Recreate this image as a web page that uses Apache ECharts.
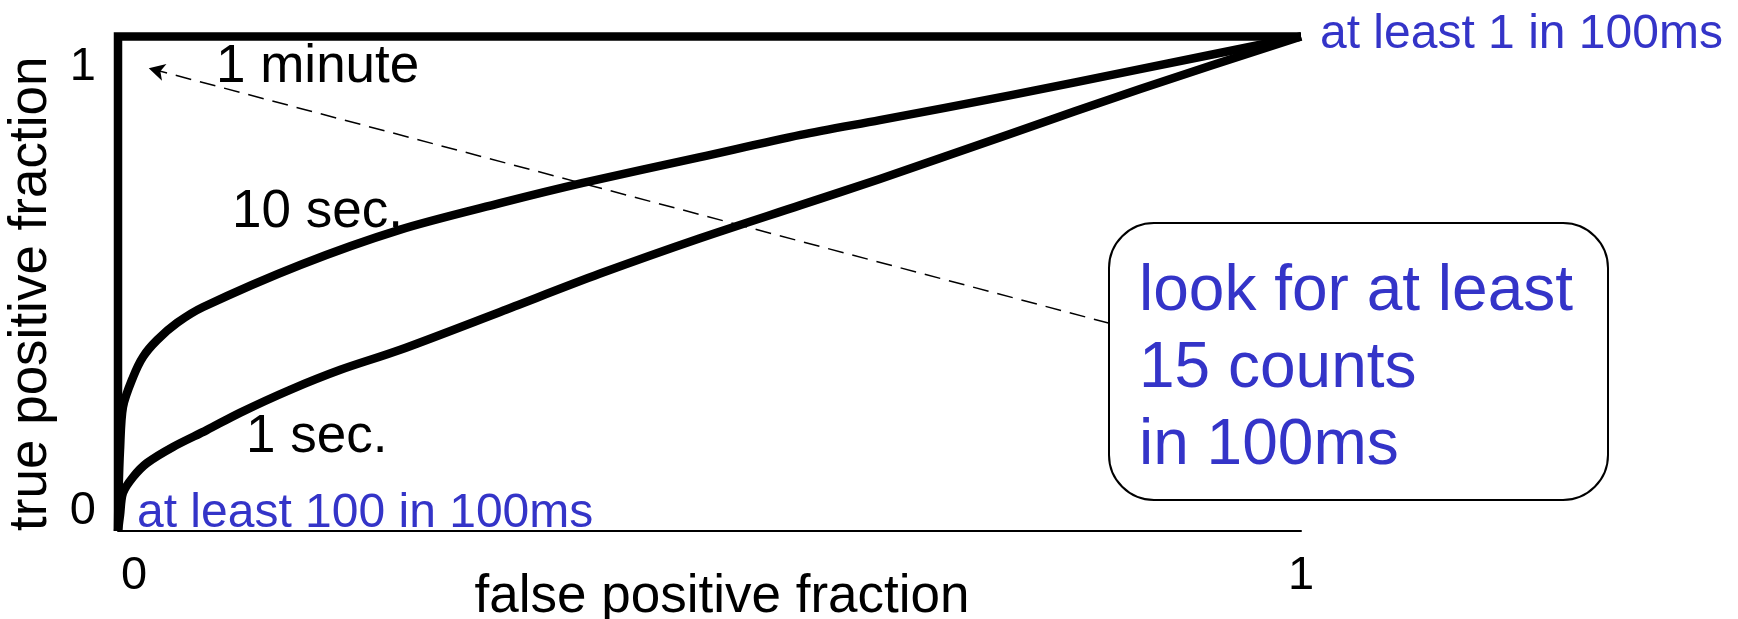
<!DOCTYPE html>
<html>
<head>
<meta charset="utf-8">
<title>ROC curves by integration window</title>
<script src="https://cdn.jsdelivr.net/npm/echarts@6/dist/echarts.min.js"></script>
<style>
  html, body { margin: 0; padding: 0; background: #fff; }
  #chart { width: 1738px; height: 619px; }
</style>
</head>
<body>
<div id="chart"></div>
<script>
// ROC curves: [false positive fraction, true positive fraction]
const oneMinute = [[0, 0], [0, 1], [1, 1]];

const tenSec = [
  [0, 0], [0.0005, 0.08], [0.0017, 0.164], [0.0042, 0.251], [0.0127, 0.311],
  [0.0211, 0.352], [0.033, 0.386], [0.05, 0.421], [0.072, 0.453],
  [0.154, 0.538], [0.238, 0.609], [0.323, 0.663], [0.393, 0.704],
  [0.492, 0.756], [0.577, 0.801], [0.644, 0.831], [0.754, 0.881],
  [0.864, 0.934], [1, 1]
];

const oneSec = [
  [0, 0], [0.0017, 0.032], [0.0042, 0.077], [0.0127, 0.109], [0.0245, 0.1375],
  [0.0465, 0.17], [0.075, 0.204], [0.103, 0.239], [0.145, 0.285],
  [0.188, 0.326], [0.238, 0.366], [0.323, 0.443], [0.407, 0.52],
  [0.492, 0.592], [0.577, 0.659], [0.644, 0.712], [0.754, 0.803],
  [0.864, 0.894], [1, 1]
];

// tick values and their labels
const xTicks = [0, 1];
const xTickLabels = ['0', '1'];
const yTicks = [0, 1];
const yTickLabels = ['0', '1'];

// dashed pointer from the threshold box to the top-left corner
const pointerFrom = [0.838, 0.42];
const pointerTo = [0.026, 0.936];

const FONT = 'Liberation Sans, Arial, sans-serif';
const BLUE = '#3434c8';
const STROKE = 8.5;

const chart = echarts.init(document.getElementById('chart'), null, { renderer: 'canvas' });

function curve(name, data, extra) {
  return Object.assign({
    name: name,
    type: 'line',
    data: data,
    showSymbol: false,
    symbol: 'none',
    clip: false,
    silent: true,
    smooth: 0.3,
    lineStyle: { color: '#000', width: STROKE, cap: 'butt', join: 'round' },
    z: 3
  }, extra || {});
}

chart.setOption({
  animation: false,
  backgroundColor: '#fff',
  grid: { left: 118, right: 437, top: 36.5, bottom: 88, containLabel: false, outerBoundsMode: 'none' },
  xAxis: {
    type: 'value', min: 0, max: 1, interval: 1,
    name: 'false positive fraction',
    nameLocation: 'middle',
    nameGap: 40,
    nameMoveOverlap: false,
    nameTextStyle: { fontSize: 53, color: '#000', fontFamily: FONT, padding: [0, 0, 0, 25] },
    axisLine: { show: true, lineStyle: { color: '#000', width: 2 } },
    axisTick: { show: false },
    splitLine: { show: false },
    axisLabel: {
      margin: 22,
      fontSize: 47, color: '#000', fontFamily: FONT,
      formatter: function (v) {
        const i = xTicks.indexOf(v);
        if (i < 0) return '';
        return (i === 0 ? '{lo|' : '{hi|') + xTickLabels[i] + '}';
      },
      rich: {
        lo: { fontSize: 47, color: '#000', fontFamily: FONT, padding: [0, 0, 0, 32] },
        hi: { fontSize: 47, color: '#000', fontFamily: FONT }
      }
    }
  },
  yAxis: {
    type: 'value', min: 0, max: 1, interval: 1,
    name: 'true positive fraction',
    nameLocation: 'middle',
    nameGap: 60,
    nameMoveOverlap: false,
    nameTextStyle: { fontSize: 53, color: '#000', fontFamily: FONT, padding: [0, 20, 0, 0] },
    axisLine: { show: false },
    axisTick: { show: false },
    splitLine: { show: false },
    axisLabel: {
      margin: 22,
      fontSize: 47, color: '#000', fontFamily: FONT,
      formatter: function (v) {
        const i = yTicks.indexOf(v);
        if (i < 0) return '';
        return (i === 0 ? '{lo|' : '{hi|') + yTickLabels[i] + '}';
      },
      rich: {
        lo: { fontSize: 47, color: '#000', fontFamily: FONT, padding: [0, 0, 40, 0] },
        hi: { fontSize: 47, color: '#000', fontFamily: FONT, padding: [62, 0, 0, 0] }
      }
    }
  },
  series: [
    curve('1 minute', oneMinute, {
      smooth: false,
      lineStyle: { color: '#000', width: STROKE, cap: 'butt', join: 'miter' }
    }),
    curve('10 sec.', tenSec),
    curve('1 sec.', oneSec, {
      markLine: {
        silent: true,
        animation: false,
        symbol: ['none', 'arrow'],
        symbolSize: [13, 16],
        label: { show: false },
        lineStyle: { color: '#000', width: 1.5, type: [16, 9] },
        data: [[
          { coord: pointerFrom, symbol: 'none' },
          { coord: pointerTo, symbol: 'arrow' }
        ]]
      }
    })
  ],
  graphic: [
    { type: 'text', x: 216, y: 67, z: 10,
      style: { text: '1 minute', font: '53px ' + FONT, fill: '#000', verticalAlign: 'middle' } },
    { type: 'text', x: 232, y: 212, z: 10,
      style: { text: '10 sec.', font: '53px ' + FONT, fill: '#000', verticalAlign: 'middle' } },
    { type: 'text', x: 246, y: 437, z: 10,
      style: { text: '1 sec.', font: '53px ' + FONT, fill: '#000', verticalAlign: 'middle' } },
    { type: 'text', x: 137, y: 514, z: 10,
      style: { text: 'at least 100 in 100ms', font: '48px ' + FONT, fill: BLUE, verticalAlign: 'middle' } },
    { type: 'text', x: 1320, y: 35, z: 10,
      style: { text: 'at least 1 in 100ms', font: '48px ' + FONT, fill: BLUE, verticalAlign: 'middle' } },
    { type: 'rect', z: 8,
      shape: { x: 1109, y: 223, width: 499, height: 277, r: 45 },
      style: { fill: '#fff', stroke: '#000', lineWidth: 2 } },
    { type: 'text', x: 1139, y: 369, z: 10,
      style: { text: 'look for at least\n15 counts\nin 100ms', font: '64px ' + FONT, lineHeight: 77,
               fill: BLUE, verticalAlign: 'middle' } }
  ]
});
</script>
</body>
</html>
